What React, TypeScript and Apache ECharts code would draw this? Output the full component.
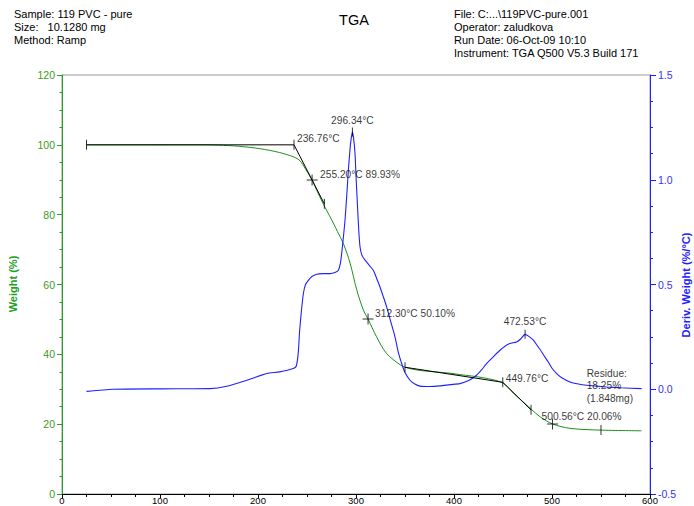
import React, { useEffect, useRef } from 'react';
import * as echarts from 'echarts';

// ---- Data ----
const tempW = [25, 60, 100, 140, 160, 180, 202, 222, 236.76, 243, 248, 255.2, 261, 268.4, 276.9, 281, 287, 294, 300.7, 307.5, 312.3, 321, 331, 345, 350, 365, 396, 406, 430, 449.76, 460.5, 474, 478.6, 488, 500.56, 518.4, 549, 591.5];
const weight = [100, 100, 100, 100, 99.9, 99.6, 98.9, 97.8, 96.5, 95.4, 93.3, 89.93, 86.3, 82.1, 77.6, 75.2, 71.8, 66.1, 58.5, 52.7, 50.1, 45, 40.3, 37, 36.3, 35.4, 34.6, 34.2, 33.3, 31.8, 28.9, 25.5, 24.3, 22.1, 20.06, 18.8, 18.3, 18.1];

const tempD = [25, 52, 100, 151, 168, 188.5, 209, 222, 236, 239, 241, 242.5, 244, 246.3, 248.5, 251.4, 255, 260, 266, 273.5, 279, 282, 284, 285.4, 287, 288.8, 290.5, 292.2, 293.8, 294.9, 296.34, 297.5, 299, 300.2, 301.4, 302.8, 304.1, 306, 309.2, 313, 317.7, 321, 324.5, 328, 331.3, 335, 339.8, 343, 346.6, 350, 355.1, 360, 365.3, 375, 385.7, 396, 406, 415, 423, 428, 433.4, 440, 447, 452, 457, 464, 468, 472.53, 477, 481, 485, 489.5, 493, 496.2, 500, 504.8, 510, 518.4, 527, 535.4, 545, 555.8, 570, 591.5];
const deriv = [-0.01, 0, 0.002, 0.003, 0.014, 0.043, 0.075, 0.083, 0.099, 0.11, 0.17, 0.28, 0.36, 0.457, 0.5, 0.52, 0.538, 0.549, 0.552, 0.552, 0.558, 0.568, 0.6, 0.648, 0.72, 0.807, 0.92, 1.045, 1.14, 1.19, 1.228, 1.2, 1.125, 1.0, 0.886, 0.76, 0.68, 0.64, 0.616, 0.595, 0.568, 0.53, 0.488, 0.44, 0.393, 0.33, 0.25, 0.18, 0.123, 0.08, 0.043, 0.025, 0.015, 0.013, 0.016, 0.022, 0.027, 0.042, 0.067, 0.092, 0.123, 0.155, 0.186, 0.205, 0.218, 0.226, 0.24, 0.262, 0.25, 0.234, 0.208, 0.178, 0.152, 0.13, 0.1, 0.075, 0.055, 0.035, 0.025, 0.019, 0.015, 0.011, 0.007, 0.003];

// Onset construction lines (°C, %)
const onsetStep1 = [[25, 100], [236.76, 100]];
const tangent1 = [[236.76, 100], [267.7, 83.1]];
const onsetStep2 = [[350, 36.3], [449.76, 32.0]];
const tangent2 = [[449.76, 32.0], [478.6, 24.1]];

// Vertical tick markers on weight curve and their texts
const tickPts = [[25, 100], [236.76, 100], [267.7, 83.1], [350, 36.3], [449.76, 32.0], [478.6, 24.1], [550, 18.3]];
const tickTexts = ['', '236.76°C', '', '', '449.76°C', '', 'Residue:\n18.25%\n(1.848mg)'];

// Cross markers on weight curve
const crossPts = [[255.2, 89.93], [312.3, 50.1], [500.56, 20.06]];
const crossTexts = ['255.20°C 89.93%', '312.30°C 50.10%', '500.56°C 20.06%'];

// Derivative peaks
const peakPts = [[296.34, 1.228], [472.53, 0.262]];
const peakTexts = ['296.34°C', '472.53°C'];

const headerLeft = ['Sample: 119 PVC - pure', 'Size:   10.1280 mg', 'Method: Ramp'];
const headerRight = ['File: C:...\\119PVC-pure.001', 'Operator: zaludkova', 'Run Date: 06-Oct-09 10:10', 'Instrument: TGA Q500 V5.3 Build 171'];

const xRange = [0, 600, 100];
const wRange = [0, 120, 20];
const dRange = [-0.5, 1.5, 0.5];

const FONT = 'Liberation Sans, Arial, sans-serif';
const GREEN_AXIS = '#22a022';
const GREEN_LABEL = '#3c9a1c';
const GREEN_LINE = '#1a901a';
const BLUE = '#2020ff';

const zip = (a: number[], b: number[]) => a.map((v, i) => [v, b[i]]);

export default function App() {
  const ref = useRef<HTMLDivElement>(null);
  useEffect(() => {
    if (!ref.current) return;
    const chart = echarts.init(ref.current, undefined, { renderer: 'svg' });

    const tickOffsets: Record<number, number[]> = { 1: [3, -6], 4: [3, -3.5], 6: [-14.3, -44.4] };
    const crossOffsets = [[8, -5], [7, -6], [-11, -7.3]];
    const peakOffsets = [[0, -11], [0, -13]];
    const lblBase = { show: true, position: 'inside', color: '#000', fontSize: 10.2, fontFamily: FONT, verticalAlign: 'middle' };

    const blackLine = (d: number[][]) => ({
      type: 'line', xAxisIndex: 0, yAxisIndex: 0, data: d, showSymbol: false, symbol: 'none',
      lineStyle: { color: '#000', width: 1 }, z: 4, silent: true,
    });

    const option: any = {
      animation: false,
      backgroundColor: '#fff',
      grid: { left: 62, right: 44, top: 75, bottom: 12, containLabel: false, outerBoundsMode: 'none', show: true, borderColor: '#999', borderWidth: 1, backgroundColor: 'transparent' },
      xAxis: [{
        type: 'value', min: xRange[0], max: xRange[1], interval: xRange[2], position: 'bottom',
        axisLine: { show: true, onZero: false, lineStyle: { color: '#000', width: 1 } },
        axisTick: { show: true, length: 4, lineStyle: { color: '#000' } },
        minorTick: { show: true, splitNumber: 4, length: 3, lineStyle: { color: '#000' } },
        axisLabel: { color: '#000', fontSize: 9.5, fontFamily: FONT, margin: 1.5 },
        splitLine: { show: false },
      }],
      yAxis: [{
        type: 'value', min: wRange[0], max: wRange[1], interval: wRange[2], position: 'left',
        axisLine: { show: true, onZero: false, lineStyle: { color: GREEN_AXIS, width: 1 } },
        axisTick: { show: true, length: 5, lineStyle: { color: GREEN_AXIS } },
        minorTick: { show: true, splitNumber: 4, length: 2.5, lineStyle: { color: GREEN_AXIS } },
        axisLabel: { color: GREEN_LABEL, fontSize: 10.5, fontFamily: FONT, margin: 7 },
        splitLine: { show: false },
      }, {
        type: 'value', min: dRange[0], max: dRange[1], interval: dRange[2], position: 'right',
        axisLine: { show: true, onZero: false, lineStyle: { color: BLUE, width: 1 } },
        axisTick: { show: true, length: 6, lineStyle: { color: BLUE } },
        minorTick: { show: true, splitNumber: 4, length: 3, lineStyle: { color: BLUE } },
        axisLabel: { color: '#3333ee', fontSize: 10.5, fontFamily: FONT, margin: 8, formatter: (v: number) => v.toFixed(1) },
        splitLine: { show: false },
      }],
      graphic: [
        ...headerLeft.map((t, i) => ({ type: 'text', x: 14, y: 14 + i * 13, style: { text: t, fill: '#000', fontSize: 11, fontFamily: FONT, verticalAlign: 'middle' } })),
        ...headerRight.map((t, i) => ({ type: 'text', x: 454, y: 14 + i * 12.9, style: { text: t, fill: '#000', fontSize: 11, fontFamily: FONT, verticalAlign: 'middle' } })),
        { type: 'text', x: 354, y: 20, style: { text: 'TGA', fill: '#000', fontSize: 14.5, fontFamily: FONT, align: 'center', verticalAlign: 'middle' } },
        { type: 'text', x: 13, y: 284, rotation: Math.PI / 2, style: { text: 'Weight (%)', fill: GREEN_AXIS, fontSize: 11, fontWeight: 'bold', fontFamily: FONT, align: 'center', verticalAlign: 'middle' } },
        { type: 'text', x: 686, y: 285, rotation: Math.PI / 2, style: { text: 'Deriv. Weight (%/°C)', fill: BLUE, fontSize: 11, fontWeight: 'bold', fontFamily: FONT, align: 'center', verticalAlign: 'middle' } },
      ],
      series: [
        { type: 'line', name: 'Weight', xAxisIndex: 0, yAxisIndex: 0, data: zip(tempW, weight), showSymbol: false, symbol: 'none', smooth: 0.3, lineStyle: { color: GREEN_LINE, width: 1 }, z: 2 },
        { type: 'line', name: 'Deriv. Weight', xAxisIndex: 0, yAxisIndex: 1, data: zip(tempD, deriv), showSymbol: false, symbol: 'none', smooth: 0.2, lineStyle: { color: BLUE, width: 1.1 }, z: 3 },
        blackLine(onsetStep1),
        blackLine(tangent1),
        blackLine(onsetStep2),
        blackLine(tangent2),
        {
          type: 'scatter', xAxisIndex: 0, yAxisIndex: 0, symbol: 'rect', symbolSize: [1, 10], itemStyle: { color: '#000' }, z: 5, silent: true,
          data: tickPts.map((p, i) => ({
            value: p,
            label: tickTexts[i] ? { ...lblBase, formatter: tickTexts[i], align: 'left', offset: tickOffsets[i], lineHeight: 12.5 } : { show: false },
          })),
        },
        {
          type: 'scatter', xAxisIndex: 0, yAxisIndex: 0, symbol: 'path://M0,5h11v1h-11z M5,0h1v11h-1z', symbolSize: 11, itemStyle: { color: '#000' }, z: 5, silent: true,
          data: crossPts.map((p, i) => ({ value: p, label: { ...lblBase, formatter: crossTexts[i], align: 'left', offset: crossOffsets[i] } })),
        },
        {
          type: 'scatter', xAxisIndex: 0, yAxisIndex: 1, symbol: 'rect', symbolSize: [1, 9], itemStyle: { color: '#000' }, z: 5, silent: true,
          data: peakPts.map((p, i) => ({ value: p, label: { ...lblBase, formatter: peakTexts[i], align: 'center', offset: peakOffsets[i] } })),
        },
      ],
    };
    chart.setOption(option);
    return () => chart.dispose();
  }, []);
  return <div ref={ref} style={{ position: 'fixed', left: 0, top: 0, width: 694, height: 506, background: '#fff' }} />;
}
